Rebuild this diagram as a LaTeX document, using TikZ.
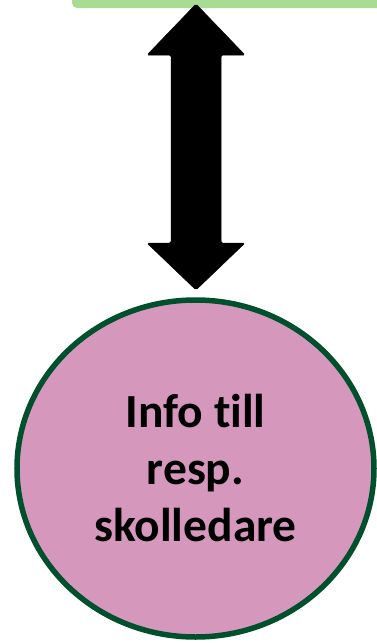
\documentclass[tikz,border=0pt]{standalone}
\usepackage{fontspec}
\setmainfont[Ligatures=NoCommon]{Carlito}
\usetikzlibrary{shapes.geometric}
\definecolor{topgreen}{HTML}{A9DC93}
\definecolor{pinkfill}{HTML}{D597BC}
\definecolor{darkborder}{HTML}{00502D}
\tikzset{
  topbox/.style={fill=topgreen, draw=none, rounded corners=5pt},
  infonode/.style={ellipse, fill=pinkfill, draw=darkborder, line width=5.5pt,
    minimum width=357pt, minimum height=337pt, inner sep=0pt, align=center,
    font=\fontsize{47.5}{57}\selectfont\bfseries},
  blockarrow/.style={fill=black, draw=black, line width=0.5pt, rounded corners=1.5pt}
}
\begin{document}
\begin{tikzpicture}[x=1pt, y=-1pt]
\useasboundingbox (0,0) rectangle (377,643);
\fill[topbox] (72,-30) rectangle (420,8);
\coordinate (top) at (196,4);
\node[infonode] (info) at (195.5,468.5) {Info till\\resp.\\skolledare};
\coordinate (bot) at (196,290);
\draw[blockarrow] (top) -- (245,55) -- (221,55) -- (221,243) -- (245,243) -- (bot)
  -- (147,243) -- (171,243) -- (171,55) -- (147,55) -- cycle;
\end{tikzpicture}
\end{document}
